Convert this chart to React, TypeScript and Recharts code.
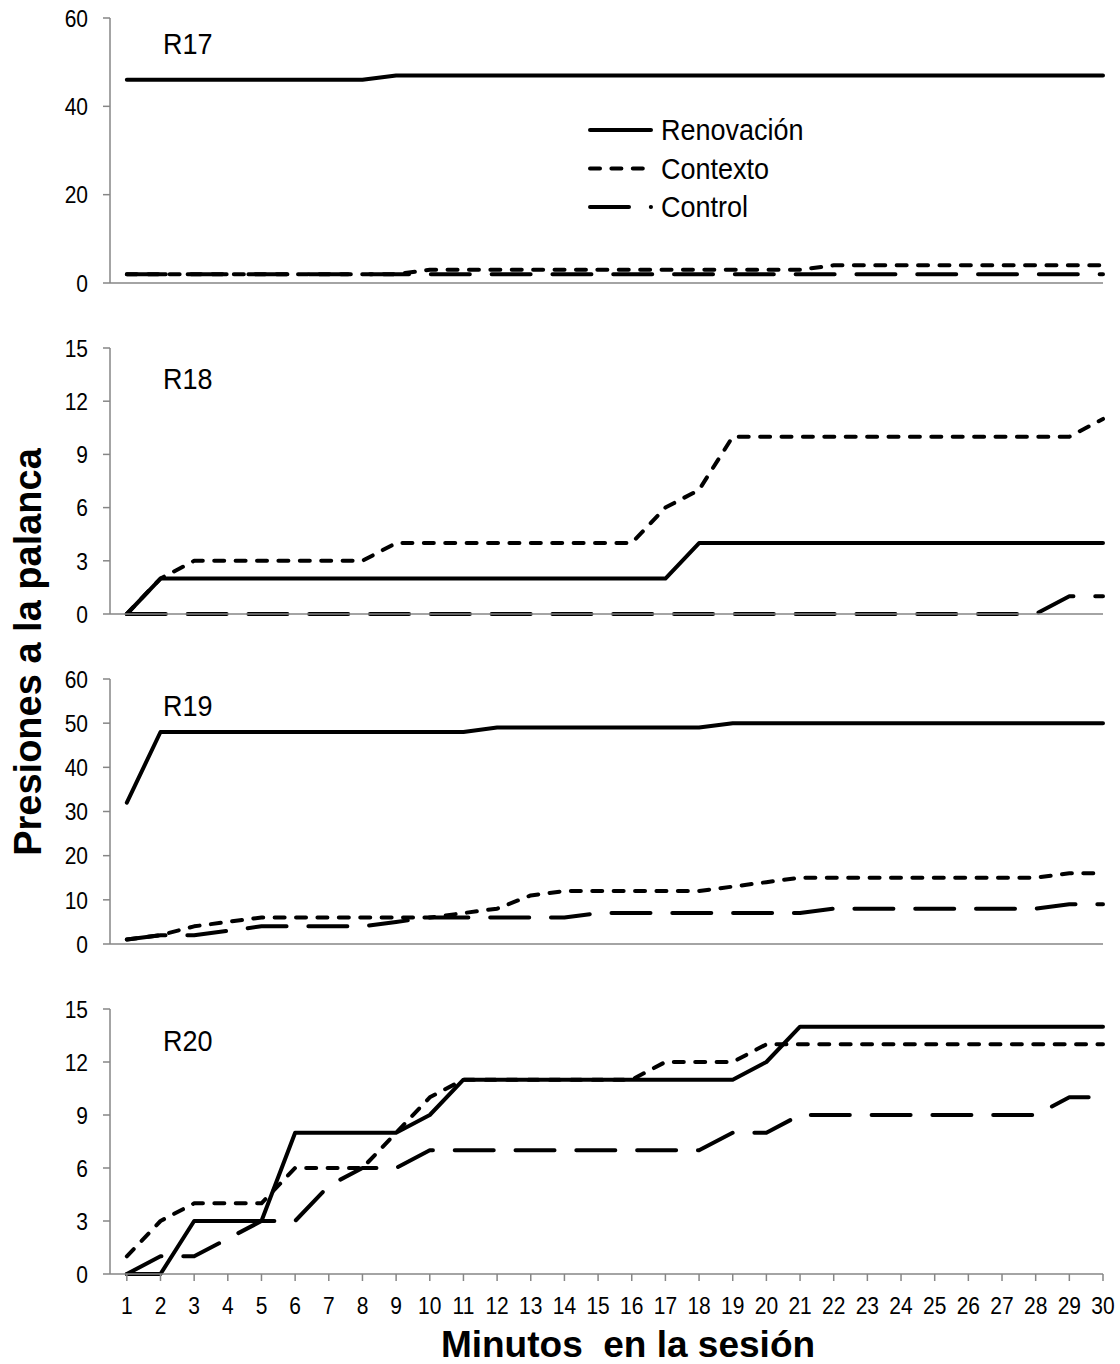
import { LineChart, Line, XAxis, YAxis, Legend } from "recharts";

const FONT = "'Liberation Sans', Arial, sans-serif";
const AXIS_GRAY = "#868686";

// minutes in the session (x categories)
const MINUTES = [1, 2, 3, 4, 5, 6, 7, 8, 9, 10, 11, 12, 13, 14, 15, 16, 17, 18, 19, 20, 21, 22, 23, 24, 25, 26, 27, 28, 29, 30];

// cumulative lever presses per rat
const R17_RENOVACION = [46, 46, 46, 46, 46, 46, 46, 46, 47, 47, 47, 47, 47, 47, 47, 47, 47, 47, 47, 47, 47, 47, 47, 47, 47, 47, 47, 47, 47, 47];
const R17_CONTEXTO = [2, 2, 2, 2, 2, 2, 2, 2, 2, 3, 3, 3, 3, 3, 3, 3, 3, 3, 3, 3, 3, 4, 4, 4, 4, 4, 4, 4, 4, 4];
const R17_CONTROL = [2, 2, 2, 2, 2, 2, 2, 2, 2, 2, 2, 2, 2, 2, 2, 2, 2, 2, 2, 2, 2, 2, 2, 2, 2, 2, 2, 2, 2, 2];

const R18_RENOVACION = [0, 2, 2, 2, 2, 2, 2, 2, 2, 2, 2, 2, 2, 2, 2, 2, 2, 4, 4, 4, 4, 4, 4, 4, 4, 4, 4, 4, 4, 4];
const R18_CONTEXTO = [0, 2, 3, 3, 3, 3, 3, 3, 4, 4, 4, 4, 4, 4, 4, 4, 6, 7, 10, 10, 10, 10, 10, 10, 10, 10, 10, 10, 10, 11];
const R18_CONTROL = [0, 0, 0, 0, 0, 0, 0, 0, 0, 0, 0, 0, 0, 0, 0, 0, 0, 0, 0, 0, 0, 0, 0, 0, 0, 0, 0, 0, 1, 1];

const R19_RENOVACION = [32, 48, 48, 48, 48, 48, 48, 48, 48, 48, 48, 49, 49, 49, 49, 49, 49, 49, 50, 50, 50, 50, 50, 50, 50, 50, 50, 50, 50, 50];
const R19_CONTEXTO = [1, 2, 4, 5, 6, 6, 6, 6, 6, 6, 7, 8, 11, 12, 12, 12, 12, 12, 13, 14, 15, 15, 15, 15, 15, 15, 15, 15, 16, 16];
const R19_CONTROL = [1, 2, 2, 3, 4, 4, 4, 4, 5, 6, 6, 6, 6, 6, 7, 7, 7, 7, 7, 7, 7, 8, 8, 8, 8, 8, 8, 8, 9, 9];

const R20_RENOVACION = [0, 0, 3, 3, 3, 8, 8, 8, 8, 9, 11, 11, 11, 11, 11, 11, 11, 11, 11, 12, 14, 14, 14, 14, 14, 14, 14, 14, 14, 14];
const R20_CONTEXTO = [1, 3, 4, 4, 4, 6, 6, 6, 8, 10, 11, 11, 11, 11, 11, 11, 12, 12, 12, 13, 13, 13, 13, 13, 13, 13, 13, 13, 13, 13];
const R20_CONTROL = [0, 1, 1, 2, 3, 3, 5, 6, 6, 7, 7, 7, 7, 7, 7, 7, 7, 7, 8, 8, 9, 9, 9, 9, 9, 9, 9, 9, 10, 10];

const TICKS_60_BY_20 = [0, 20, 40, 60];
const TICKS_15_BY_3 = [0, 3, 6, 9, 12, 15];
const TICKS_60_BY_10 = [0, 10, 20, 30, 40, 50, 60];

const SERIES = [
  { key: "renovacion", name: "Renovación", dash: undefined as string | undefined },
  { key: "contexto", name: "Contexto", dash: "10 11.4" },
  { key: "control", name: "Control", dash: "39 21.8" },
];

const PANELS = [
  { name: "R17", top: 0, height: 330, max: 60, ticks: TICKS_60_BY_20, ren: R17_RENOVACION, ctx: R17_CONTEXTO, ctl: R17_CONTROL, labelY: 54, legend: true, last: false },
  { name: "R18", top: 330, height: 331, max: 15, ticks: TICKS_15_BY_3, ren: R18_RENOVACION, ctx: R18_CONTEXTO, ctl: R18_CONTROL, labelY: 389, legend: false, last: false },
  { name: "R19", top: 661, height: 330, max: 60, ticks: TICKS_60_BY_10, ren: R19_RENOVACION, ctx: R19_CONTEXTO, ctl: R19_CONTROL, labelY: 716, legend: false, last: false },
  { name: "R20", top: 991, height: 373, max: 15, ticks: TICKS_15_BY_3, ren: R20_RENOVACION, ctx: R20_CONTEXTO, ctl: R20_CONTROL, labelY: 1051, legend: false, last: true },
];

// tick labels are drawn a little taller than wide, like the printed figure
const TICK_FONT = 21;
const TICK_STRETCH = 1.18;

function YTick({ x, y, payload }: any) {
  return (
    <text
      transform={`translate(${x}, ${y}) scale(1, ${TICK_STRETCH})`}
      textAnchor="end"
      dy="0.355em"
      fontSize={TICK_FONT}
      fontFamily={FONT}
      fill="#000"
    >
      {payload.value}
    </text>
  );
}

function XTick({ x, y, payload }: any) {
  return (
    <text
      transform={`translate(${x}, ${y}) scale(1, ${TICK_STRETCH})`}
      textAnchor="middle"
      dy="0.71em"
      fontSize={TICK_FONT}
      fontFamily={FONT}
      fill="#000"
    >
      {payload.value}
    </text>
  );
}

function LegendBox() {
  return (
    <svg width={240} height={120} style={{ display: "block" }}>
      {SERIES.map((s, i) => (
        <g key={s.key} transform={`translate(0, ${20 + i * 38.5})`}>
          <line x1={4} x2={65} y1={0} y2={0} stroke="#000" strokeWidth={4} strokeLinecap="round" strokeDasharray={s.dash} />
          <text transform="translate(75, 10) scale(1, 1.08)" fontSize={27} fontFamily={FONT} fill="#000">
            {s.name}
          </text>
        </g>
      ))}
    </svg>
  );
}

function Panel({ panel }: { panel: (typeof PANELS)[number] }) {
  const rows = MINUTES.map((m, i) => ({
    minute: m,
    renovacion: panel.ren[i],
    contexto: panel.ctx[i],
    control: panel.ctl[i],
  }));

  return (
    <div style={{ position: "absolute", left: 0, top: panel.top }}>
      <LineChart
        width={1120}
        height={panel.height}
        data={rows}
        margin={{ top: 18, right: 17, bottom: panel.last ? 50 : 7, left: 0 }}
      >
        <XAxis
          dataKey="minute"
          type="number"
          domain={[0.5, 30]}
          ticks={MINUTES}
          interval={0}
          height={40}
          tickSize={7}
          tickMargin={15}
          axisLine={{ stroke: AXIS_GRAY, strokeWidth: 1.5 }}
          tickLine={{ stroke: AXIS_GRAY, strokeWidth: 1.5 }}
          tick={panel.last ? <XTick /> : false}
        />
        <YAxis
          width={110}
          domain={[0, panel.max]}
          ticks={panel.ticks}
          interval={0}
          tickSize={7}
          tickMargin={15}
          axisLine={{ stroke: AXIS_GRAY, strokeWidth: 1.5 }}
          tickLine={{ stroke: AXIS_GRAY, strokeWidth: 1.5 }}
          tick={<YTick />}
        />
        {panel.legend && (
          <Legend
            layout="vertical"
            align="center"
            verticalAlign="middle"
            content={() => <LegendBox />}
            wrapperStyle={{ left: 586, top: 110, width: 240, height: 120 }}
          />
        )}
        {SERIES.map((s) => (
          <Line
            key={s.key}
            type="linear"
            dataKey={s.key}
            name={s.name}
            stroke="#000"
            strokeWidth={4}
            strokeLinecap="round"
            strokeLinejoin="round"
            strokeDasharray={s.dash}
            dot={false}
            activeDot={false}
            isAnimationActive={false}
          />
        ))}
      </LineChart>
    </div>
  );
}

export default function App() {
  return (
    <div style={{ position: "absolute", left: 0, top: 0, width: 1120, height: 1364, background: "#fff" }}>
      {PANELS.map((p) => (
        <Panel key={p.name} panel={p} />
      ))}
      <svg
        width={1120}
        height={1364}
        style={{ position: "absolute", left: 0, top: 0, pointerEvents: "none" }}
      >
        {PANELS.map((p) => (
          <text
            key={p.name}
            transform={`translate(163, ${p.labelY}) scale(1, 1.08)`}
            fontSize={27}
            fontFamily={FONT}
            fill="#000"
          >
            {p.name}
          </text>
        ))}
        <text
          transform="translate(41, 652) rotate(-90)"
          textAnchor="middle"
          fontSize={38}
          fontWeight="bold"
          fontFamily={FONT}
          fill="#000"
        >
          Presiones a la palanca
        </text>
        <text
          x={628}
          y={1357}
          textAnchor="middle"
          fontSize={37}
          fontWeight="bold"
          fontFamily={FONT}
          fill="#000"
          xmlSpace="preserve"
          style={{ whiteSpace: "pre" }}
        >
          {"Minutos  en la sesión"}
        </text>
      </svg>
    </div>
  );
}
